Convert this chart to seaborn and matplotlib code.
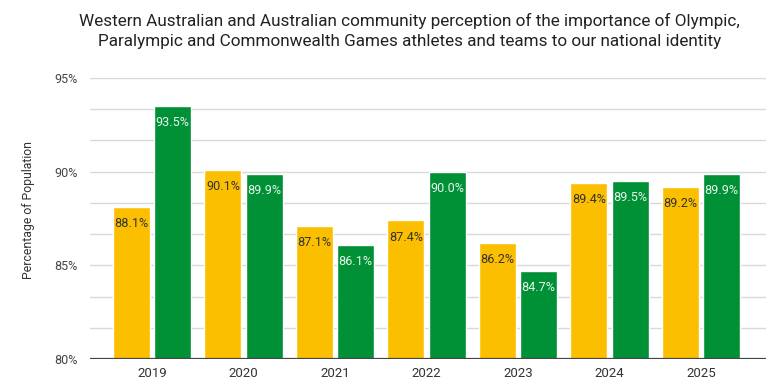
import matplotlib
matplotlib.use("Agg")
import matplotlib.pyplot as plt
import seaborn as sns
import pandas as pd
import numpy as np
from matplotlib.ticker import FixedLocator, FuncFormatter

years = ["2019", "2020", "2021", "2022", "2023", "2024", "2025"]
wa_values = [88.1, 90.1, 87.1, 87.4, 86.2, 89.4, 89.2]
aus_values = [93.5, 89.9, 86.1, 90.0, 84.7, 89.5, 89.9]
series_names = ["Western Australia", "Australia"]
title = ("Western Australian and Australian community perception of the importance of Olympic,\n"
         "Paralympic and Commonwealth Games athletes and teams to our national identity")

df = pd.DataFrame({
    "Year": years * 2,
    "Value": wa_values + aus_values,
    "Series": [series_names[0]] * len(years) + [series_names[1]] * len(years),
})

sns.set_theme(style="white")
plt.rcParams['font.family'] = ['Roboto', 'DejaVu Sans']

fig = plt.figure(figsize=(7.66, 3.8), dpi=100)
ax = fig.add_axes([90/766, 1 - 359/380, 1 - 90/766, (359 - 78)/380])

palette = {series_names[0]: "#FBBF00", series_names[1]: "#009036"}
sns.barplot(data=df, x="Year", y="Value", hue="Series", palette=palette,
            width=0.9, gap=0.1, ax=ax, legend=False, saturation=1)

ax.set_ylim(80, 95)
ax.set_xlim(-0.678, 6.71)

# gridlines at thirds of each 5% interval
grid_vals = np.arange(80, 95.01, 5/3)
for g in grid_vals[1:]:
    ax.axhline(g, color="#D9D9D9", lw=1, zorder=0)
ax.axhline(80, color="#444444", lw=1.6, zorder=3)

ax.yaxis.set_major_locator(FixedLocator([80, 85, 90, 95]))
ax.yaxis.set_major_formatter(FuncFormatter(lambda v, p: f"{v:.0f}%"))
ax.tick_params(axis="y", length=0, labelsize=9, labelcolor="#444444", pad=9)
ax.tick_params(axis="x", length=0, labelsize=9.5, labelcolor="#333333", pad=6)
for s in ax.spines.values():
    s.set_visible(False)
ax.set_xlabel("")
ax.set_ylabel("Percentage of Population", fontsize=8.8, color="#333333")
ax.yaxis.set_label_coords(-0.081, 0.53)

for container, color in zip(ax.containers, ["#333333", "#E8F5EC"]):
    for bar in container:
        h = bar.get_height()
        ax.annotate(f"{h:.1f}%", (bar.get_x() + bar.get_width()/2, h),
                    xytext=(0, -12), textcoords="offset points",
                    ha="center", va="center", fontsize=9.1, color=color, zorder=5)

fig.text(0.535, 0.965, title, ha="center", va="top", fontsize=12.3, color="#222222",
         linespacing=1.35)

fig.savefig("out.png", dpi=100)
